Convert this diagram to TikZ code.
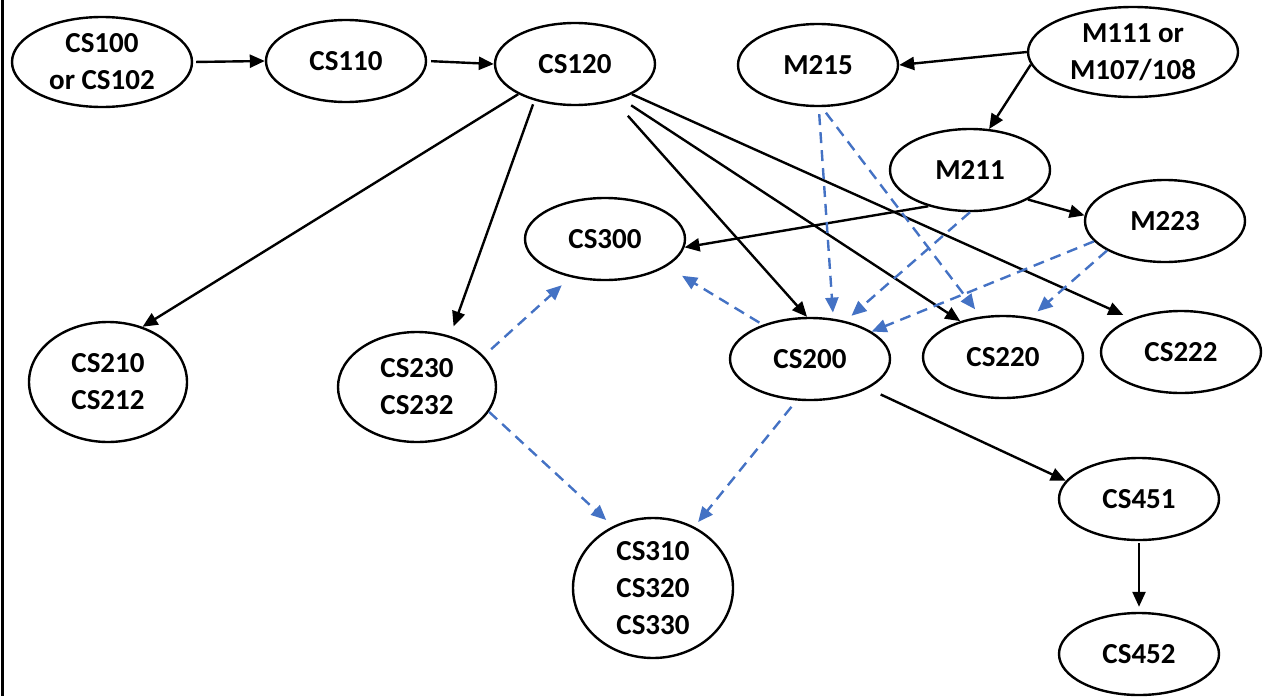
\documentclass[tikz,border=0pt]{standalone}
\usepackage{fontspec}
\setmainfont{Carlito}
\usetikzlibrary{shapes.geometric,arrows.meta}
\definecolor{dashblue}{HTML}{4472C4}
\tikzset{
	>={Triangle[length=15pt,width=13pt]},
}
\tikzstyle{course}=[draw,ellipse,line width=2.4pt,inner sep=0pt,
    minimum width=160pt,minimum height=82pt,align=center,
    font=\fontsize{29}{37}\selectfont\bfseries]
\tikzstyle{prereq}=[->,line width=2.4pt]
\tikzstyle{advised}=[->,line width=2.4pt,color=dashblue,dash pattern=on 11pt off 7pt]

\begin{document}
\begin{tikzpicture}[x=1pt,y=-1pt]
      \useasboundingbox (0,0) rectangle (1265,696);
      \draw[line width=3pt] (2,0)--(2,696);
      % courses
      \node[course,minimum width=180pt,minimum height=90pt] (cs100) at (102,62) {CS100\\or CS102};
      \node[course] (cs110) at (346,61) {CS110};
      \node[course] (cs120) at (575,64) {CS120};
      \node[course] (m215) at (818,65) {M215};
      \node[course,minimum width=210pt,minimum height=90pt] (m111) at (1133,52) {M111 or\\M107/108};
      \node[course] (m211) at (970,170) {M211};
      \node[course] (m223) at (1165,221) {M223};
      \node[course] (cs300) at (605,239) {CS300};
      \node[course,minimum width=158pt,minimum height=120pt] (cs210) at (108,382) {CS210\\CS212};
      \node[course,minimum width=158pt,minimum height=110pt] (cs230) at (417,387) {CS230\\CS232};
      \node[course] (cs200) at (810,359) {CS200};
      \node[course] (cs220) at (1003,357) {CS220};
      \node[course] (cs222) at (1181,352) {CS222};
      \node[course] (cs451) at (1139,499) {CS451};
      \node[course] (cs452) at (1139,654) {CS452};
      \node[course,minimum height=140pt] (cs310) at (653,588) {CS310\\CS320\\CS330};
      % required
      \draw[prereq,shorten <=3pt] (cs100.east)--(cs110.west);
      \draw[prereq,shorten <=4pt] (cs110.east)--(cs120.west);
      \draw[prereq] (cs120.208)--(cs210.58);
      \draw[prereq,shorten <=4pt,shorten >=10pt] (cs120.222)--(cs230.57);
      \draw[prereq,shorten <=20pt] (cs120.-43)--(cs200.94);
      \draw[prereq,shorten <=12pt] (cs120.-37)--(cs220.140);
      \draw[prereq,shorten >=9pt] (cs120.-28)--(cs222.146);
      \draw[prereq] (m111.west)--(m215.east);
      \draw[prereq] (m111.187)--(m211.65);
      \draw[prereq] (m211.221)--(cs300.-6);
      \draw[prereq] (m211.-27)--(m223.176);
      \draw[prereq,shorten <=14pt] (cs200.-27)--(cs451.166);
      \draw[prereq,shorten <=2pt,shorten >=5pt] (cs451.south)--(cs452.north);
      % recommended
      \draw[advised,shorten <=7pt,shorten >=6pt] (m215.-89)--(cs200.60);
      \draw[advised,shorten <=7pt,shorten >=9pt] (m215.-85)--(cs220.119);
      \draw[advised,shorten >=8pt] (m211.south)--(cs200.47);
      \draw[advised] (m223.196)--(cs200.24);
      \draw[advised,shorten >=9pt] (m223.207)--(cs220.55);
      \draw[advised,shorten <=4pt,shorten >=18pt] (cs200.144)--(cs300.-24);
      \draw[advised,shorten <=10pt,shorten >=12pt] (cs230.25)--(cs300.228);
      \draw[advised,shorten >=9pt] (cs230.-19)--(cs310.123);
      \draw[advised,shorten <=8pt,shorten >=6pt] (cs200.252)--(cs310.56);
    \end{tikzpicture}
\end{document}
